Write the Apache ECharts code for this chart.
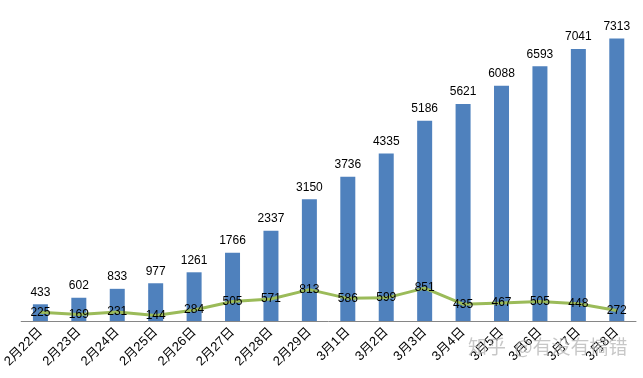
<!DOCTYPE html>
<html>
<head>
<meta charset="utf-8">
<script src="https://cdn.jsdelivr.net/npm/echarts@6/dist/echarts.min.js"></script>
<style>
  html, body { margin: 0; padding: 0; background: #fff; }
  #chart { width: 643px; height: 378px; }
</style>
</head>
<body>
<div id="chart"></div>
<script>
// 日期
const days = ['2月22日', '2月23日', '2月24日', '2月25日', '2月26日', '2月27日', '2月28日', '2月29日',
  '3月1日', '3月2日', '3月3日', '3月4日', '3月5日', '3月6日', '3月7日', '3月8日']
// 累计
const totalVals = [433, 602, 833, 977, 1261, 1766, 2337, 3150, 3736, 4335, 5186, 5621, 6088, 6593, 7041, 7313]
// 新增
const dailyVals = [225, 169, 231, 144, 284, 505, 571, 813, 586, 599, 851, 435, 467, 505, 448, 272]

const font = 'Liberation Sans, Noto Sans CJK SC, sans-serif'

const myChart = echarts.init(document.getElementById('chart'))
myChart.setOption({
  animation: false,
  grid: { left: 20, right: 7, top: 12, bottom: 57 },
  xAxis: {
    type: 'category',
    data: days,
    axisLine: { lineStyle: { color: '#868686' } },
    axisTick: { length: 5, lineStyle: { color: '#868686' } },
    axisLabel: { rotate: 45, color: '#000', fontSize: 13, fontFamily: font, margin: 9 }
  },
  yAxis: {
    type: 'value',
    min: 0,
    max: 8000,
    show: false
  },
  series: [
    {
      type: 'bar',
      data: totalVals,
      barWidth: 15,
      itemStyle: { color: '#4F81BD' },
      label: { show: true, position: 'top', distance: 6, color: '#000', fontSize: 12, fontFamily: font }
    },
    {
      type: 'line',
      data: dailyVals,
      symbol: 'circle',
      symbolSize: 2,
      showSymbol: true,
      z: 3,
      itemStyle: { color: '#9BBB59' },
      lineStyle: { color: '#9BBB59', width: 3 },
      label: { show: true, position: 'inside', color: '#000', fontSize: 12, fontFamily: font }
    }
  ],
  graphic: [{
    type: 'text',
    left: 468,
    top: 337,
    z: 100,
    style: { text: '知乎  @有没有搞错', fill: 'rgba(180,180,180,0.75)', fontSize: 19, fontFamily: 'Noto Sans CJK SC' }
  }]
})
</script>
</body>
</html>
